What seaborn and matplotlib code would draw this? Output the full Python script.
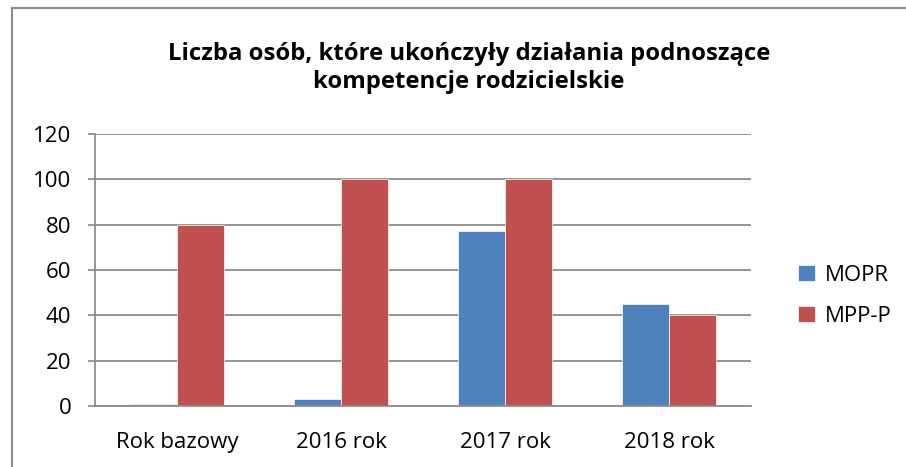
import matplotlib
matplotlib.use("Agg")
import matplotlib.pyplot as plt
import seaborn as sns
import pandas as pd
from matplotlib.patches import Rectangle

categories = ["Rok bazowy", "2016 rok", "2017 rok", "2018 rok"]
series_names = ["MOPR", "MPP-P"]
mopr = [1, 3, 77, 45]
mppp = [80, 100, 100, 40]
yticks = [0, 20, 40, 60, 80, 100, 120]
title = "Liczba osób, które ukończyły działania podnoszące\nkompetencje rodzicielskie"
colors = ["#4F81BD", "#C0504D"]

df = pd.DataFrame({
    "cat": categories * 2,
    "series": [series_names[0]] * 4 + [series_names[1]] * 4,
    "val": mopr + mppp,
})

sns.set_theme(style="white")
plt.rcParams["font.family"] = ["Open Sans", "DejaVu Sans"]

fig = plt.figure(figsize=(9.06, 4.67), dpi=100)
ax = fig.add_axes([95/906, 1-406/467, (751-95)/906, (406-134)/467])

sns.barplot(data=df, x="cat", y="val", hue="series", palette=colors,
            width=0.571, ax=ax, saturation=1, legend=True)

ax.set_ylim(0, 120)
ax.set_yticks(yticks)
ax.set_xlim(-0.5, 3.5)
ax.yaxis.grid(True, color="#8c8c8c", linewidth=1.3)
ax.set_axisbelow(True)
ax.set_xlabel("")
ax.set_ylabel("")
for s in ["top", "right"]:
    ax.spines[s].set_visible(False)
for s in ["left", "bottom"]:
    ax.spines[s].set_color("#8c8c8c")
    ax.spines[s].set_linewidth(1.3)
ax.tick_params(axis="y", labelsize=16, length=5, color="#8c8c8c", left=True, pad=12,
               labelcolor="black")
ax.tick_params(axis="x", labelsize=16, length=0, pad=19, labelcolor="black")

for p in ax.patches:
    p.set_edgecolor("white")
    p.set_linewidth(0.5)

leg = ax.legend(loc="center left", bbox_to_anchor=(1.055, 0.405), frameon=False,
                fontsize=16, handlelength=0.75, handleheight=0.75,
                labelspacing=0.9, handletextpad=0.45, borderpad=0)
for t in leg.get_texts():
    t.set_color("black")

fig.text(469/906, 1-68/467, title, ha="center", va="center", color="black",
         fontsize=17.2, fontweight="bold", linespacing=1.2)

fig.patches.append(Rectangle((12/906, -0.1), 1.2, 1-8/467+0.1, transform=fig.transFigure,
                             fill=False, edgecolor="#8c8c8c", linewidth=1.5))

fig.savefig("out.png", dpi=100)
